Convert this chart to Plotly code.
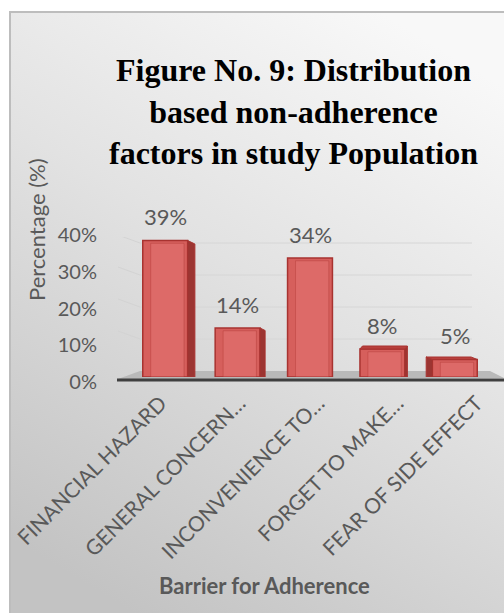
import base64
import plotly.graph_objects as go

# ---- data -----------------------------------------------------------------
categories = [
    "FINANCIAL HAZARD",
    "GENERAL CONCERN…",
    "INCONVENIENCE TO…",
    "FORGET TO MAKE…",
    "FEAR OF SIDE EFFECT",
]
percentages = [39, 14, 34, 8, 5]
y_ticks = [0, 10, 20, 30, 40]
y_tick_labels = ["0%", "10%", "20%", "30%", "40%"]

title_lines = [
    "Figure No. 9: Distribution",
    "based non-adherence",
    "factors in study Population",
]
x_title = "Barrier for Adherence"
y_title = "Percentage (%)"

# ---- canvas helpers ---------------------------------------------------------
W, H = 504, 613


def fx(px):
    return px / W


def fy(py):
    return 1 - py / H


TEXT = "#595959"
SANS = "Lato, 'Open Sans', sans-serif"
FACE = "#d65f5c"
EDGE = "#a83330"
SIDE = "#9c3532"

# pixel geometry of the front (bars) and back wall (gridlines)
FRONT_Y0, FRONT_Y40 = 377, 237
BACK_Y0, BACK_Y40 = 371, 243
px_per_unit = (FRONT_Y0 - FRONT_Y40) / 40.0
back_px_per_unit = (BACK_Y0 - BACK_Y40) / 40.0
# range of an overlay axis that puts the back-wall grid where it belongs
b_lo = -(FRONT_Y0 - BACK_Y0) / back_px_per_unit
b_hi = b_lo + (FRONT_Y0 - FRONT_Y40) / back_px_per_unit
back_unit = 1.0 / back_px_per_unit  # y2 units per pixel

n = len(categories)
xs = list(range(n))
bar_w = 0.62

# 3-D extrusion per bar (category units / pixels)
side_dx = [0.10, 0.07, 0.0, 0.035, -0.085]
side_rise = [-3.5, -2.5, 0.0, 3.0, 2.5]

fig = go.Figure()

# side / top faces of the extruded bars
for i, v in enumerate(percentages):
    dx = side_dx[i]
    r = side_rise[i] / px_per_unit
    xl, xr = i - bar_w / 2, i + bar_w / 2
    if dx != 0:
        e = xr if dx > 0 else xl
        fig.add_trace(go.Scatter(
            x=[e, e, e + dx, e + dx, e], y=[0, v, v + r, 0, 0],
            mode="lines", fill="toself", fillcolor=SIDE,
            line=dict(color=EDGE, width=1), hoverinfo="skip", showlegend=False))
    if r > 0:
        fig.add_trace(go.Scatter(
            x=[xl, xr, xr + dx, xl + dx, xl], y=[v, v, v + r, v + r, v],
            mode="lines", fill="toself", fillcolor="#b8403d",
            line=dict(color=EDGE, width=1), hoverinfo="skip", showlegend=False))

# front faces
fig.add_trace(go.Bar(
    x=xs, y=percentages, width=bar_w,
    marker=dict(color=FACE, line=dict(color=EDGE, width=1.5)),
    hoverinfo="skip", showlegend=False))
# soft inner bevel highlight
fig.add_trace(go.Bar(
    x=[x + 0.03 for x in xs], y=[v - 0.8 for v in percentages], width=bar_w - 0.16,
    base=0, marker=dict(color="rgba(236,130,126,0.35)",
                        line=dict(color="rgba(170,50,47,0.35)", width=1)),
    hoverinfo="skip", showlegend=False))

# helper traces so the auxiliary axes exist
fig.add_trace(go.Scatter(x=[0], y=[0], xaxis="x", yaxis="y2", mode="markers",
                         marker=dict(opacity=0), hoverinfo="skip", showlegend=False))
fig.add_trace(go.Scatter(x=[0], y=[0], xaxis="x", yaxis="y3", mode="markers",
                         marker=dict(opacity=0), hoverinfo="skip", showlegend=False))
fig.add_trace(go.Scatter(x=[0], y=[0], xaxis="x2", yaxis="y", mode="markers",
                         marker=dict(opacity=0), hoverinfo="skip", showlegend=False))

# value labels
for i, v in enumerate(percentages):
    fig.add_annotation(x=i, y=v, xref="x", yref="y", text=f"{v}%",
                       showarrow=False, yshift=24, yanchor="middle",
                       font=dict(family=SANS, size=22, color=TEXT))

# background gradient panel
svg = (
    '<svg xmlns="http://www.w3.org/2000/svg" width="494" height="601" '
    'preserveAspectRatio="none">'
    '<defs><linearGradient id="g" x1="0.75" y1="0" x2="0.25" y2="1">'
    '<stop offset="0" stop-color="#f8f8f8"/>'
    '<stop offset="0.45" stop-color="#e2e2e2"/>'
    '<stop offset="1" stop-color="#c3c3c3"/>'
    '</linearGradient></defs>'
    '<rect width="494" height="601" fill="url(#g)"/></svg>'
)
src = "data:image/svg+xml;base64," + base64.b64encode(svg.encode()).decode()
fig.add_layout_image(dict(source=src, xref="paper", yref="paper",
                          x=fx(10), y=fy(12), sizex=fx(504) - fx(10),
                          sizey=fy(12) - fy(613), xanchor="left", yanchor="top",
                          sizing="stretch", layer="below"))

shapes = []
# border
shapes.append(dict(type="rect", xref="paper", yref="paper",
                   x0=fx(10), x1=fx(520), y0=fy(12), y1=fy(630),
                   line=dict(color="#bdbdbd", width=2), fillcolor="rgba(0,0,0,0)",
                   layer="below"))
# back-wall gridlines with a short slanted side-wall segment
for t in y_ticks[1:]:
    shapes.append(dict(type="line", xref="paper", yref="y2",
                       x0=fx(140), x1=fx(472), y0=t, y1=t,
                       line=dict(color="#d6d6d6", width=1), layer="below"))
    shapes.append(dict(type="line", xref="paper", yref="y2",
                       x0=fx(118), x1=fx(140), y0=t + 8 * back_unit, y1=t,
                       line=dict(color="#d3d3d3", width=1), layer="below"))
# floor
floor = (f"M {fx(118)} {fy(379)} L {fx(140)} {fy(BACK_Y0)} "
         f"L {fx(490)} {fy(BACK_Y0)} L {fx(504)} {fy(378)} Z")
shapes.append(dict(type="path", xref="paper", yref="paper", path=floor,
                   fillcolor="#b9b9b9", line=dict(width=0), layer="below"))
# category axis line
shapes.append(dict(type="line", xref="paper", yref="paper",
                   x0=fx(117), x1=fx(504), y0=fy(380), y1=fy(380),
                   line=dict(color="#3f3f3f", width=3), layer="above"))

fig.update_layout(
    width=W, height=H,
    margin=dict(l=0, r=0, t=0, b=0, autoexpand=False),
    paper_bgcolor="white",
    plot_bgcolor="rgba(0,0,0,0)",
    barmode="overlay",
    shapes=shapes,
    xaxis=dict(domain=[fx(129), fx(491)], range=[-0.5, n - 0.5],
               visible=False, fixedrange=True, automargin=False),
    yaxis=dict(domain=[fy(FRONT_Y0), fy(FRONT_Y40)], range=[0, 40],
               visible=False, fixedrange=True, automargin=False),
    yaxis2=dict(overlaying="y", range=[b_lo, b_hi], visible=False, automargin=False),
    yaxis3=dict(domain=[fy(382), fy(235)], range=[0, 40], anchor="free",
                position=fx(97), tickvals=y_ticks, ticktext=y_tick_labels,
                showgrid=False, showline=False, zeroline=False, ticks="",
                automargin=False,
                tickfont=dict(family=SANS, size=20, color=TEXT)),
    xaxis2=dict(domain=[fx(121), 1], range=[-0.5, -0.5 + (504 - 121) / 79.0],
                anchor="free", position=fy(386), tickvals=xs, ticktext=categories,
                tickangle=-45, showgrid=False, showline=False, zeroline=False,
                ticks="", automargin=False,
                tickfont=dict(family=SANS, size=21, color=TEXT)),
)

# chart title
fig.add_annotation(x=fx(293), y=fy(111), xref="paper", yref="paper",
                   text="<br>".join(f"<b>{s}</b>" for s in title_lines),
                   showarrow=False, xanchor="center", yanchor="middle",
                   font=dict(family="Liberation Serif, 'Times New Roman', serif",
                             size=32, color="black"))
# axis titles
fig.add_annotation(x=fx(264), y=fy(585), xref="paper", yref="paper",
                   text=f"<b>{x_title}</b>", showarrow=False,
                   xanchor="center", yanchor="middle",
                   font=dict(family=SANS, size=22, color=TEXT))
fig.add_annotation(x=fx(37), y=fy(230), xref="paper", yref="paper",
                   text=y_title, textangle=-90, showarrow=False,
                   xanchor="center", yanchor="middle",
                   font=dict(family=SANS, size=22, color=TEXT))

fig.write_html("out.html")
